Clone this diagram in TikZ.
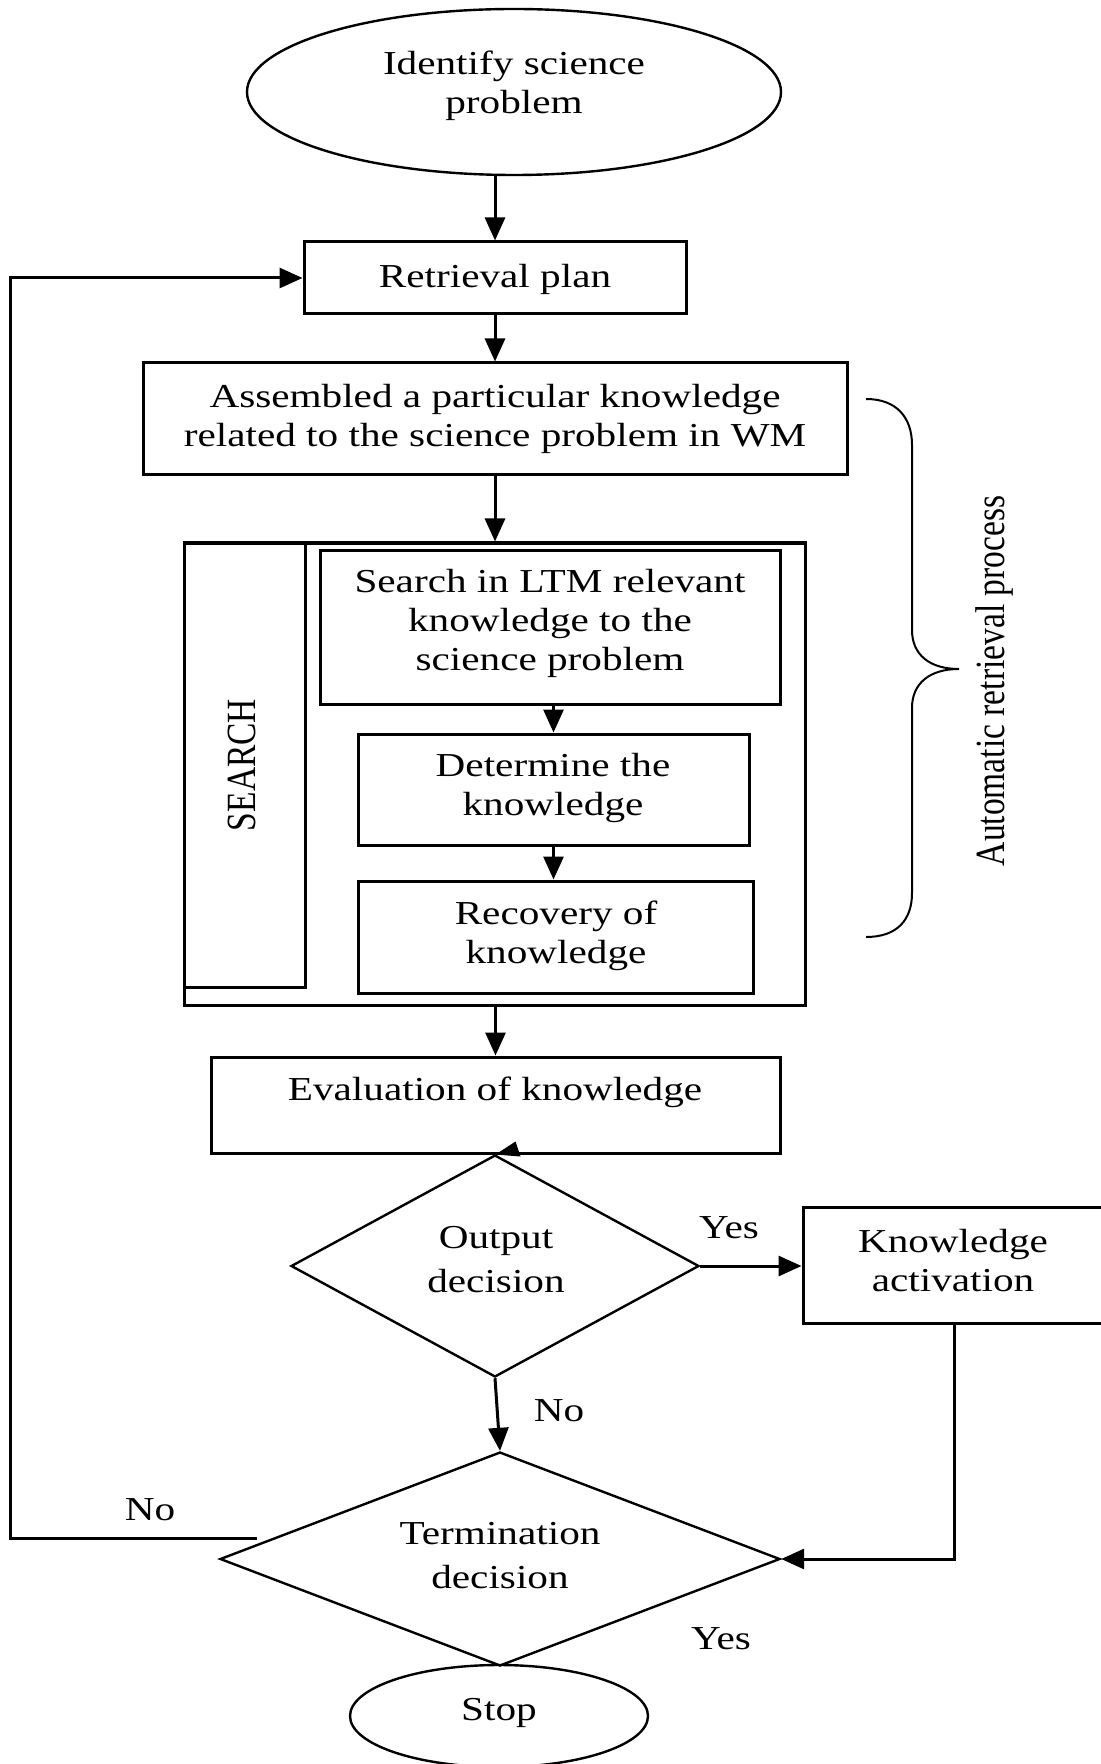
\documentclass[tikz,border=0pt]{standalone}
\usepackage{fontspec}
\setmainfont{Liberation Serif}[FakeStretch=1.23]
\newfontfamily\uprightserif{Liberation Serif}
\usetikzlibrary{shapes.geometric,arrows.meta}

\begin{document}
\begin{tikzpicture}[
  x=0.5pt, y=-0.5pt,
  box/.style={draw, rectangle, line width=1.5pt, inner sep=0pt},
  oval/.style={draw, ellipse, line width=1.2pt, inner sep=0pt},
  choice/.style={draw, diamond, line width=1.2pt, inner sep=0pt},
  txt/.style={align=center, inner sep=0pt, font=\fontsize{16.75}{19.5}\selectfont},
  txtloose/.style={align=center, inner sep=0pt, font=\fontsize{16.75}{22}\selectfont},
  flow/.style={line width=1.5pt, -{Triangle[length=11.5pt,width=10pt]}},
]
\fill[white] (0,0) rectangle (1100,1764);
\useasboundingbox (0,0) rectangle (1100,1764);

% main column shapes
\node[oval, minimum width=267pt, minimum height=83pt] (ident) at (514,92) {};
\node[box, minimum width=191pt, minimum height=36pt] (retr) at (495,278) {};
\node[box, minimum width=352pt, minimum height=56pt] (asm) at (495,419) {};

% search block
\node[box, minimum width=310.5pt, minimum height=231pt] (outer) at (494.5,774) {};
\node[box, minimum width=60.5pt, minimum height=222pt] (srch) at (244.5,765) {};
\node[box, minimum width=230pt, minimum height=77pt] (ltm) at (550,627) {};
\node[box, minimum width=195.5pt, minimum height=55.5pt] (det) at (553.5,789.5) {};
\node[box, minimum width=197.5pt, minimum height=56pt] (rec) at (555.5,937) {};

\node[box, minimum width=284.5pt, minimum height=48pt] (eval) at (495.5,1105) {};
\node[choice, minimum width=204pt, minimum height=111pt, aspect=1.84] (out) at (495,1266) {};
\node[box, minimum width=151.5pt, minimum height=58pt] (act) at (954.5,1265) {};
\node[choice, minimum width=280pt, minimum height=107pt, aspect=2.62] (term) at (500,1559) {};
\node[oval, minimum width=149pt, minimum height=51pt] (stop) at (499,1716) {};

% texts
\node[txt] (identT) at (514,86) {Identify science\\problem};
\node[txt] (retrT) at (495,279.5) {Retrieval plan};
\node[txt] (asmT) at (495,418.5) {Assembled a particular knowledge\\related to the science problem in WM};
\node[txt, rotate=90] (srchT) at (242,765) {\scalebox{1}[1.24]{\uprightserif SEARCH}};
\node[txt] (ltmT) at (550,623.5) {Search in LTM relevant\\knowledge to the\\science problem};
\node[txt] (detT) at (553,787.5) {Determine the\\knowledge};
\node[txt] (recT) at (556,935.5) {Recovery of\\knowledge};
\node[txt] (evalT) at (495,1092.5) {Evaluation of knowledge};
\node[txtloose] (outT) at (496,1260) {Output\\decision};
\node[txt] (actT) at (953,1261) {Knowledge\\activation};
\node[txtloose] (termT) at (500,1556) {Termination\\decision};
\node[txt] (stopT) at (499,1713) {Stop};

% branch labels
\node[txt] (yesA) at (729,1228) {Yes};
\node[txt] (noA) at (559,1411) {No};
\node[txt] (noB) at (150,1510) {No};
\node[txt] (yesB) at (721,1639) {Yes};

% side brace and its caption
\draw[line width=1pt] (866,399) .. controls (897,399) and (912,418) .. (912,445)
  -- (912,630) .. controls (912,655) and (930,669) .. (959,669)
  .. controls (930,669) and (912,683) .. (912,708)
  -- (912,893) .. controls (912,920) and (897,937) .. (866,937);
\node[txt, rotate=90] (autoT) at (994,681) {\scalebox{1}[1.24]{\uprightserif Automatic retrieval process}};

% connectors
\draw[flow] (retr.north |- ident.south) -- (retr.north);
\draw[flow] (retr.south) -- (asm.north);
\draw[flow] (asm.south) -- (asm.south |- outer.north);
\draw[flow] (det.north |- ltm.south) -- (det.north);
\draw[flow] (det.south) -- (det.south |- rec.north);
\draw[flow] (outer.south -| eval.north) -- (eval.north);
\fill (eval.south) -- ++(20,-13) -- ++(5,15) -- cycle;
\draw[flow] (out.east) -- (out.east -| act.west);
\draw[flow] (out.south) -- (term.north);
\draw[flow] (act.south) |- (term.east);

% loop back from the termination test
\coordinate (noEnd) at (257,1538);
\coordinate (rail) at (10,0);
\draw[flow] (noEnd) -- (noEnd -| rail) |- (retr.west);
\end{tikzpicture}
\end{document}
